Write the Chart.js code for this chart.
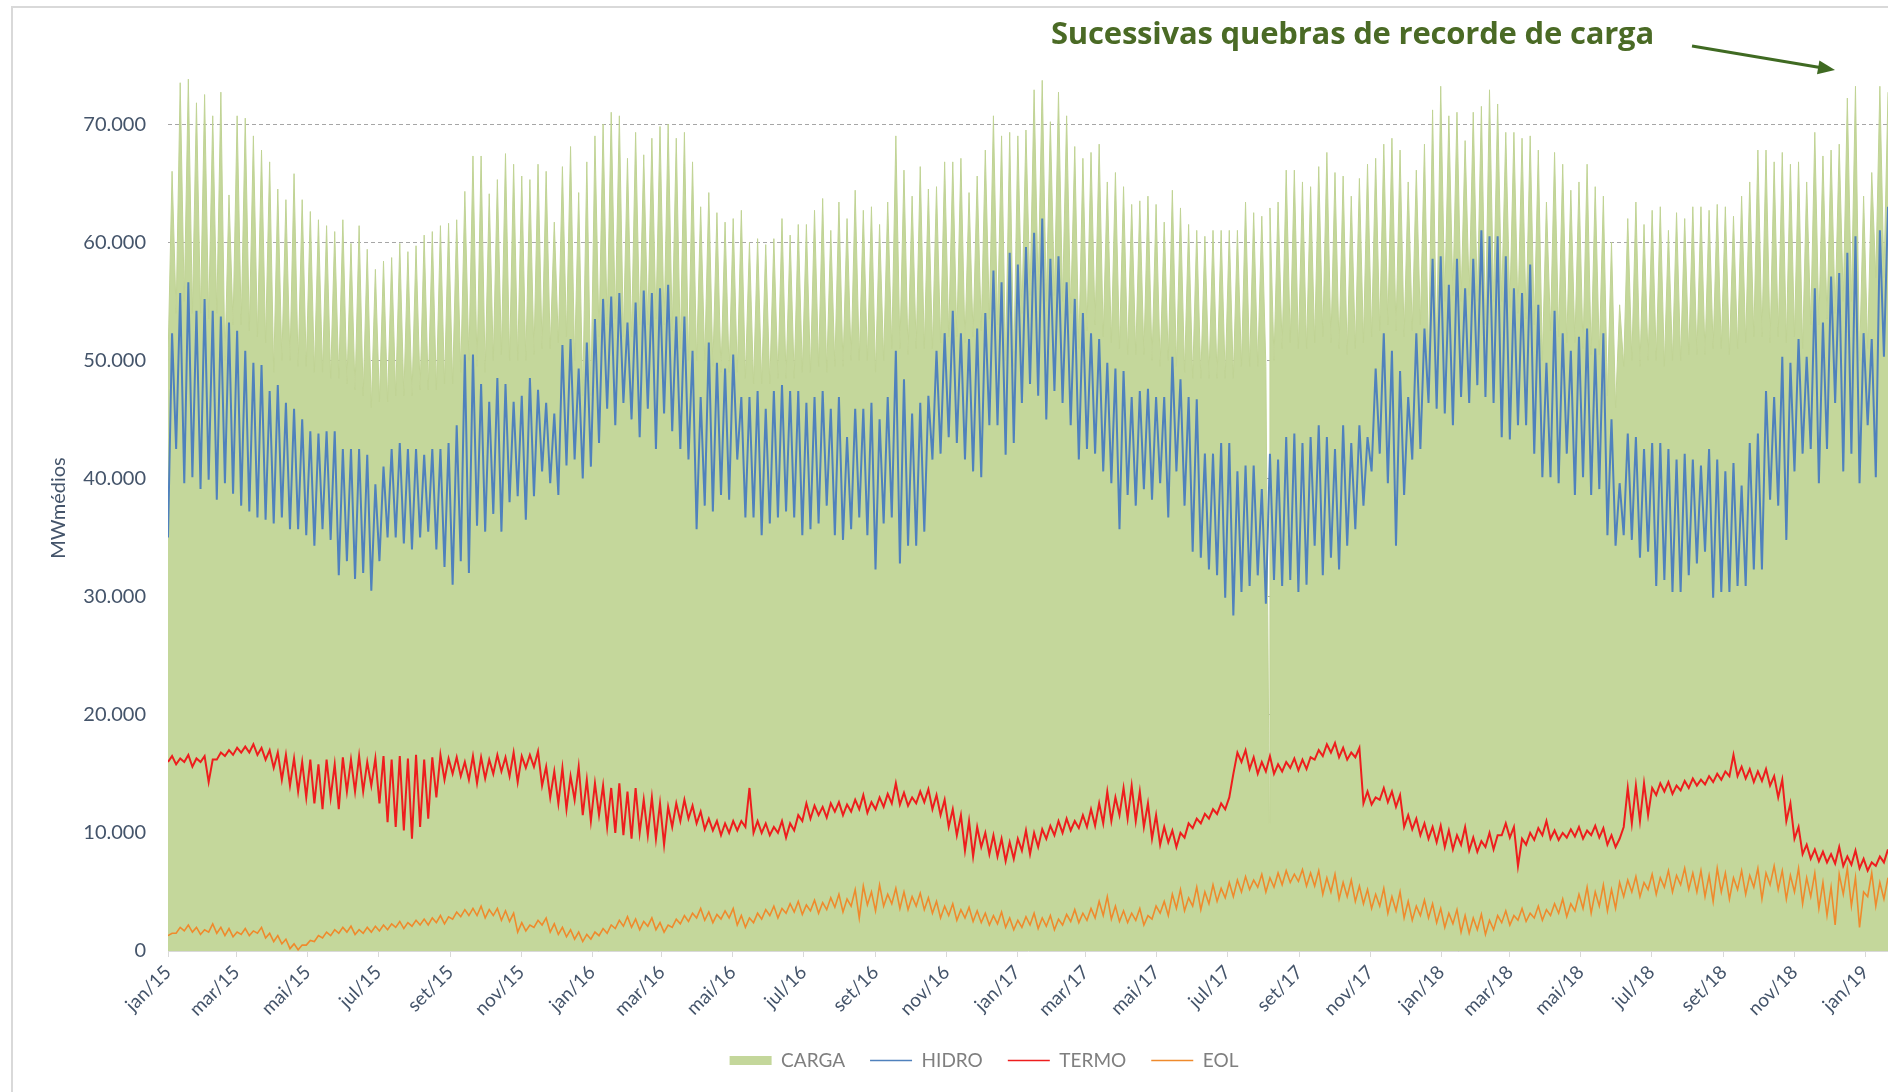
<!DOCTYPE html>
<html>
<head>
<meta charset="utf-8">
<script src="https://cdn.jsdelivr.net/npm/chart.js@4.4.1/dist/chart.umd.min.js"></script>
<style>
html,body{margin:0;padding:0;background:#fff;}
#wrap{position:relative;width:1888px;height:1092px;overflow:hidden;background:#fff;}
#frame{position:absolute;left:11px;top:6px;width:1900px;height:1100px;border-left:2px solid #d9d9d9;border-top:2px solid #d9d9d9;}
#c{position:absolute;left:0;top:0;}
#note{position:absolute;left:1051px;top:11px;font-family:'Open Sans',sans-serif;font-weight:700;font-size:31px;color:#4a6a25;white-space:nowrap;letter-spacing:-0.2px;}
#arrow{position:absolute;left:0;top:0;}
</style>
</head>
<body>
<div id="wrap">
  <div id="frame"></div>
  <canvas id="c" width="1888" height="1092"></canvas>
  <div id="note">Sucessivas quebras de recorde de carga</div>
  <svg id="arrow" width="1888" height="120">
    <line x1="1692" y1="46" x2="1820" y2="67.6" stroke="#3f6a22" stroke-width="3"/>
    <polygon points="1835,70 1819.4,60.4 1817,74.2" fill="#3f6a22"/>
  </svg>
</div>
<script>
// Weekly readings (thousand MW médios). Each week: a weekend low and a mid-week high.
const cargaHi = [
 66,73.5,73.8,71.8,72.5,70.7,72.7,64,70.7,70.5,69,67.8,66.8,64.5,63.6,65.8,63.6,62.6,61.9,61.4,60.9,61.9,59.9,
 61.4,59.4,57.7,58.4,58.7,59.9,59.2,59.7,60.6,60.9,61.4,61.6,61.9,64.3,67.3,67.3,64.1,65.3,67.5,66.6,65.6,65.3,66.6,
 66,61.7,66.4,68.1,64.2,66.8,69,70,71,70.7,67.1,69.3,67.4,68.8,69.8,70,68.8,69.3,66.8,63,64.2,62.5,61.7,62,
 62.7,60,60.3,59.8,60.3,62,60.6,61.5,61.5,62.7,63.7,61,63.4,62,64.4,62.7,63,61.5,63.4,69,66.1,63.9,66.4,64.5,
 64.7,66.8,66.8,67.1,64.2,65.6,67.8,70.7,69,69.3,69,69.5,72.9,73.7,70.2,72.7,70.7,68.1,67.1,67.6,68.3,65.1,65.9,
 64.7,63.2,63.5,63.9,63.2,61.7,64.4,62.9,61.5,61,60.5,61,61,61,61,63.4,62.5,62.2,62.9,63.4,66.1,66.1,65.1,64.7,
 66.4,67.6,65.9,65.6,63.9,65.4,66.6,67.1,68.3,68.8,67.8,65.1,66.1,68.3,71.2,73.2,70.7,71,68.6,71,71.5,72.9,71.7,
 69.3,69.3,68.8,69,67.8,63.4,67.6,66.6,64.4,65.1,66.6,64.7,63.9,60,54.7,62,63.4,61.5,62.7,63,61,62.5,62,63,
 63,62.7,63.2,63,62.2,63.9,65.1,67.8,67.8,66.8,67.6,66.6,66.8,65.1,69.3,67.3,67.8,68.3,72.2,73.2,63.9,65.9,73.2,72.7
];
const cargaLo = [
 50,54,55,54,54,53.5,54,50,53,53,52.5,52,51.5,49,50,50,49.5,49.5,49,49,48.5,48.5,48,
 47.5,47,46,46.5,46.5,47,47,47,47.5,47.5,47.5,48,48,49,50,49.5,49,50,50.5,50,50,50,50.5,
 51,51,51.5,52,50,47,47,52,53,53.5,52,52,53,53,53.5,53,52.5,51,50,50,50,49.5,49,49,
 49,48.5,48,48,48,48.5,48.5,48.5,49,49,49.5,49,49.5,49.5,50,50,50,49,50,51,51,50.5,51,51,
 51,51.5,52,52,51.5,52,52.5,53.5,53,50,49.5,54,55.5,56,55,55.5,55,54,51,52.5,53,52,51.5,
 51,50.5,50.5,50.5,50,49.5,50,49.5,49,48.5,48.5,48.5,48.5,48.5,48.5,49.5,49.5,49.5,49.5,50,51,51.5,51,51,
 51.5,52,51.5,51,50.5,51,51.5,52,52.5,53,52.5,52,52.5,53,50,51,55,55.5,55,55.5,55,53,55,
 55,54.5,54,53.5,53,50,52.5,52,51.5,51.5,51,50.5,50.5,47,46,49.5,50,49.5,50,50,49.5,50,50,50.5,
 50.5,50.5,51,51,50.5,51,51.5,52,52,51.5,52,51.5,52,51,53,53,53.5,54,55,55,50,51,57,57
];
// one-day drop in CARGA (Aug/2017)
const cargaDropDay = [948];
const cargaDropValue = [10.8];

const hidroHi = [
 52.3,55.7,56.6,54.2,55.2,54.2,53.7,53.2,52.5,50.8,49.8,49.6,47.4,47.9,46.4,45.9,45,44,43.8,44,44,42.5,42.5,
 42.5,42,39.5,41,42.5,43,42.5,42.5,42,42.5,42.5,43,44.5,50.5,50.5,48,46.5,48.5,48,46.5,47,48.5,47.5,
 46.4,45.5,51.3,51.8,49.3,51.5,53.5,55.2,55.4,55.7,53.2,54.9,55.9,55.7,56.1,56.4,53.7,53.7,50.8,46.9,51.5,49.8,49.3,50.5,
 46.9,46.9,47.4,45.9,47.4,47.9,47.4,47.4,46.4,46.9,47.4,45.9,46.9,43.5,45.9,45.9,46.4,45,46.9,50.8,48.4,45.5,46.4,47,
 50.8,52.3,54.2,52.3,51.8,52.7,54,57.6,56.6,59.1,58.1,59.6,60.8,62,58.6,58.8,56.6,55.2,54,52.3,51.8,49.8,49.3,
 49.1,46.9,47.4,47.6,46.9,46.9,50.3,48.4,46.9,46.7,42.1,42.1,43,43,40.6,41.1,41.1,39.1,42.1,41.6,43.5,43.8,43,43.5,
 44.5,43.5,42.5,44.5,43,44.5,43.5,49.3,52.3,50.8,49.1,46.9,52.3,52.7,58.6,58.8,56.4,58.6,56.1,58.6,61,60.5,60.5,
 58.8,56.1,55.7,58.1,54.7,49.8,54.2,52.3,50.8,52,52.7,51,52.3,45,39.6,43.8,43.5,42.5,43,43,42.5,41.6,42.1,41.6,
 41.1,42.5,41.6,40.6,41.3,39.4,43,43.8,47.4,46.9,50.3,49.8,51.8,50.3,56.1,53.2,57.1,57.4,59.1,60.5,52.3,51.8,61,63
];
const hidroLo = [
 35,42.5,39.6,40.1,39.1,39.9,38.2,39.6,38.7,37.7,37.2,36.7,36.5,36.2,36.7,35.7,35.7,35.2,34.3,35.7,34.8,31.8,33,
 31.5,32,30.5,33,35,35,34.5,34,35,35.5,34,32.5,31,33,32,36,35.5,37,35.5,38,38.5,36.5,38.5,
 40.6,39.6,38.6,41.1,41.6,40,41,43,45.9,44.5,46.4,45,43.5,45.9,42.5,45.5,44,42.5,41.6,35.7,37.7,37.2,38.6,38.2,
 41.6,36.7,36.7,35.2,36.2,36.7,37.2,36.7,35.2,35.7,36.2,37.7,35.2,34.8,35.7,36.7,35.2,32.3,36.2,36.7,32.8,34.3,34.3,35.5,
 41.6,42.1,43.5,43,41.6,40.6,40.1,44.5,44.5,42,43,46.4,48,47,45,47.4,46.4,44.5,41.6,42.5,42.1,40.6,39.6,
 35.7,38.6,37.7,39.1,38.2,39.6,36.7,40.6,37.7,33.8,33.3,32.3,31.8,29.9,28.4,30.4,30.9,31.8,29.4,31.4,30.9,31.4,30.4,31,
 34.3,31.8,33.3,32.3,34.3,35.7,37.7,40.6,42.1,39.6,34.3,38.6,41.6,42.5,46.4,45.9,45.5,44.5,46.9,46.4,47.9,46.9,46.4,
 43.5,43.3,44.5,44.5,42.1,40.1,40.1,39.6,42.1,38.6,40.1,38.6,39.1,35.2,34.3,35.2,34.8,33.3,33.8,30.9,31.4,30.4,30.4,31.8,
 32.8,33.8,29.9,30.4,30.4,30.9,30.9,32.3,32.3,38.2,37.7,34.8,40.6,42.1,42.5,39.6,42.5,46.4,40.6,42.1,39.6,44.5,40.1,50.3
];
const termoHi = [
 16.5,16.3,16.6,16.3,16.5,16.2,16.8,17,17.2,17.3,17.5,17.2,17,16.8,16.6,16.3,16,16.2,15.8,16.2,15.8,16.4,16.2,
 16.5,16,16.3,16.5,16.2,16.5,16.3,16.6,16.2,16.4,16.6,16.3,16.4,16,16.5,16.4,16.2,16.6,16.4,16.8,16.5,16.6,16.9,
 15.6,15.2,15.5,14.8,15.6,14.5,14.2,14,13.8,14.2,13.5,13.8,12.8,13,12.5,12.2,12.5,12.8,12.3,11.8,11.2,11,10.8,11,
 11,13.8,11,10.8,10.5,11,10.8,11.5,12.5,12.3,12.2,12.5,12.6,12.4,12.8,13.2,12.6,13,13.3,14.2,13.4,13,13.5,13.7,
 13.2,12.8,12,11.5,11,10.5,10,9.8,9.5,9.2,9.5,10.2,10,10.3,10.6,11,11.2,11,11.5,12,12.5,13.5,13,
 13.8,14,13.5,12.5,11.5,10.5,10.2,10,10.8,11.2,11.6,12,12.5,13,16.8,17,16.4,16,16.5,15.8,16,16.3,16.2,16.4,
 17,17.5,17.6,17.2,16.8,17.2,13.5,13,13.8,13.5,13.2,11.5,11.2,10.8,10.5,10.6,10.2,9.8,10.5,9.6,9.3,10,9.8,
 10.8,10.5,9.5,10,10.4,11,10.2,10,10.3,10.5,10.2,10.6,10.4,9.8,9.5,13.8,14,14.2,13.8,14.2,14.3,14,14.4,14.6,
 14.5,14.8,15,15.2,16.6,15.6,15.4,15.2,15.4,14.8,14.5,12.5,10.5,9,8.6,8.4,8.2,8.8,8,8.5,7.8,7.5,8,8.6
];
const termoLo = [
 16,15.8,16,15.6,16,14.3,16.2,16.5,16.6,16.8,16.8,16.6,16.2,15.5,14.5,14,13.5,13,12.5,12,13,12,13.5,
 13.5,13.5,14,12.5,10.9,10.5,10.2,9.5,10.5,11.2,13,14.5,15,14.8,14.5,14.2,14.6,15,15.2,14.8,14.3,15.5,15.6,
 14,13,12.5,12,12.8,11.5,11,11.5,10.5,10,9.8,9.5,10,9.8,9.5,9,10.5,11,11.2,10.8,10.3,10.2,9.8,10,
 10.2,10.5,10,10,9.8,10,9.6,10.2,11,11.2,11.5,11.3,11.8,11.5,11.8,12,11.7,12,12.2,12.5,12.4,12.3,12.5,12.6,
 12,11.5,10.5,9.8,8.5,8,8.8,8.2,8,7.6,7.8,8.5,8.2,8.8,9.5,9.8,10,10.2,10.4,10.5,10.6,10.8,11,
 11.5,11.2,11,10.5,9.5,9,9.2,8.8,9.6,10.4,10.8,11.2,11.6,12,15,16,15.4,15,15.2,15,15.2,15.5,15.3,15.4,
 16.2,16.5,16.8,16.4,16.2,16.4,12.5,12.4,12.8,12.6,12.2,10.5,10.3,9.8,9.5,9.2,8.8,8.6,9,8.5,8.4,8.8,8.6,
 9.8,9.6,7.2,9,9.4,9.8,9.5,9.4,9.6,9.7,9.5,9.8,9.6,9,8.8,10.5,10.8,11,11.5,13.2,13.5,13.3,13.6,13.8,
 14,14.1,14.3,14.5,14.8,14.8,14.6,14.3,14.4,14,13,11,9.5,8.2,7.8,7.6,7.5,7.4,7.2,7.3,7,6.8,7.2,7.5
];
const eolHi = [
 1.5,2.0,2.2,2.0,1.8,2.3,2.0,1.9,1.6,1.9,1.7,2.0,1.5,1.3,1.0,0.6,0.5,0.9,1.3,1.6,1.8,2.0,2.1,
 1.8,2.0,2.1,2.2,2.3,2.5,2.4,2.6,2.7,2.8,3.0,2.9,3.3,3.5,3.6,3.8,3.5,3.6,3.4,3.2,2.4,2.2,2.6,
 2.8,2.3,2.0,1.8,1.6,1.4,1.6,1.9,2.2,2.6,2.9,2.7,2.5,2.8,2.4,2.2,2.7,3.0,3.2,3.6,3.3,3.1,3.4,3.6,
 3.0,2.8,3.2,3.5,3.8,3.6,4.0,4.2,3.9,4.3,4.1,4.5,4.8,4.4,5.2,5.5,5.0,5.6,4.8,5.3,5.0,4.6,4.9,4.5,
 4.2,3.8,4.0,3.5,3.7,3.4,3.2,3.0,3.3,2.8,2.6,2.9,3.2,2.8,3.0,2.7,3.1,3.5,3.2,3.6,4.2,4.6,3.8,
 3.4,3.2,3.6,3.0,3.8,4.2,4.8,5.2,4.5,5.4,5.0,5.6,5.3,5.8,6.0,6.3,6.0,6.5,6.2,6.6,6.8,6.5,6.9,6.6,
 6.8,6.2,6.5,5.8,6.0,5.5,5.2,4.8,5.3,4.6,5.0,4.2,3.8,4.3,4.0,3.6,3.2,3.5,3.0,2.8,3.1,2.6,3.0,
 3.4,3.0,3.6,3.2,3.8,3.5,4.0,4.4,4.0,4.8,5.4,5.0,5.6,5.2,5.8,6.0,6.3,5.8,6.5,6.2,6.8,6.4,7.0,6.6,
 6.8,6.4,7.0,6.6,6.2,6.8,6.4,7.0,6.6,7.2,6.8,6.4,7.0,6.2,6.6,5.8,5.4,6.5,7.0,6.2,5.0,6.6,5.8,6.2
];
const eolLo = [
 1.3,1.5,1.7,1.6,1.4,1.6,1.5,1.3,1.2,1.4,1.3,1.5,1.1,0.8,0.6,0.2,0.1,0.5,0.8,1.1,1.3,1.5,1.6,
 1.4,1.5,1.6,1.7,1.8,2.0,1.9,2.1,2.2,2.2,2.4,2.3,2.7,2.9,3.0,3.0,2.8,3.0,2.6,2.5,1.6,1.7,2.0,
 2.2,1.6,1.4,1.2,1.0,0.8,1.0,1.3,1.5,1.9,2.1,2.0,1.8,2.1,1.8,1.6,2.0,2.3,2.5,2.8,2.6,2.4,2.7,2.8,
 2.2,2.0,2.4,2.7,3.0,2.8,3.2,3.3,3.1,3.4,3.2,3.5,3.7,3.3,3.8,2.8,3.9,3.4,3.8,4.0,3.6,3.5,3.8,3.5,
 3.2,2.8,3.0,2.6,2.8,2.5,2.4,2.2,2.3,2.0,1.8,2.0,2.2,1.9,2.1,1.8,2.2,2.5,2.4,2.6,2.8,3.0,2.7,
 2.5,2.4,2.6,2.2,2.7,3.2,3.0,3.6,3.4,3.8,3.5,4.0,4.2,4.5,4.6,5.0,5.2,5.4,5.0,5.4,5.6,5.8,5.9,5.5,
 5.5,4.8,5.0,4.4,4.6,4.2,4.0,3.6,3.8,3.2,3.4,2.8,2.6,3.0,2.8,2.4,2.0,2.3,1.6,1.5,1.8,1.4,1.8,
 2.4,2.2,2.6,2.5,2.8,2.6,3.0,3.2,2.9,3.4,3.6,3.2,3.8,3.4,3.6,4.6,5.0,4.6,5.2,4.8,5.4,5.0,5.6,5.2,
 5.0,4.6,4.2,5.0,4.4,5.2,4.8,5.4,4.4,5.6,5.2,4.4,5.0,4.0,4.6,3.6,3.0,2.2,4.8,3.8,2.0,4.6,3.8,4.4
];
const seriesNames = ['CARGA','HIDRO','TERMO','EOL'];
const tickLabels = ['jan/15','mar/15','mai/15','jul/15','set/15','nov/15','jan/16','mar/16','mai/16','jul/16','set/16','nov/16','jan/17','mar/17','mai/17','jul/17','set/17','nov/17','jan/18','mar/18','mai/18','jul/18','set/18','nov/18','jan/19'];
const yTickValues = [0,10000,20000,30000,40000,50000,60000,70000];
const axisTitle = 'MWmédios';

// ---- build ----
const monthIdx = {jan:0,fev:1,mar:2,abr:3,mai:4,jun:5,jul:6,ago:7,set:8,out:9,nov:10,dez:11};
const day0 = Date.UTC(2015,0,1);
const tickDays = tickLabels.map(l => { const [m,y] = l.split('/'); return (Date.UTC(2000+ +y, monthIdx[m], 1) - day0)/864e5; });
const labelByDay = {}; tickDays.forEach((d,i)=>labelByDay[d]=tickLabels[i]);

function weekly(lo, hi){
  const pts = [];
  for (let w=0; w<hi.length; w++){
    pts.push({x: 7*w, y: lo[w]*1000});
    pts.push({x: 7*w+3.5, y: hi[w]*1000});
  }
  return pts;
}
const cargaPts = weekly(cargaLo, cargaHi);
cargaDropDay.forEach((d,i)=>cargaPts.push({x:d, y:cargaDropValue[i]*1000}));
cargaPts.sort((a,b)=>a.x-b.x);
const lastDay = 7*(cargaHi.length-1)+3.5;

const fmt = v => String(Math.round(v)).replace(/\B(?=(\d{3})+(?!\d))/g,'.');
const green = '#c4d79b';

const legendShift = {
  id:'legendShift',
  afterLayout(chart){ const l = chart.legend; if(l){ l.left += 30; l.right += 30; } }
};

new Chart(document.getElementById('c').getContext('2d'), {
  type:'line',
  plugins:[legendShift],
  data:{datasets:[
    {label:seriesNames[0], data:cargaPts, fill:'origin', backgroundColor:green, borderColor:'#c0d394', borderWidth:1, pointRadius:0, order:4},
    {label:seriesNames[1], data:weekly(hidroLo,hidroHi), fill:false, borderColor:'#4f81bd', borderWidth:2, pointRadius:0, order:3},
    {label:seriesNames[2], data:weekly(termoLo,termoHi), fill:false, borderColor:'#ee1d1d', borderWidth:2, pointRadius:0, order:2},
    {label:seriesNames[3], data:weekly(eolLo,eolHi), fill:false, borderColor:'#ef8a2c', borderWidth:1.6, pointRadius:0, order:1}
  ]},
  options:{
    responsive:false, animation:false, devicePixelRatio:1, parsing:false,
    layout:{padding:{left:20,right:0,top:65,bottom:12}},
    plugins:{
      tooltip:{enabled:false},
      legend:{position:'bottom', labels:{
        usePointStyle:true, pointStyleWidth:42, boxWidth:42, boxHeight:9, padding:25,
        color:'#7f7f7f', font:{family:'Lato', size:19},
        sort:(a,b)=>a.datasetIndex-b.datasetIndex,
        generateLabels(chart){
          const items = Chart.defaults.plugins.legend.labels.generateLabels(chart);
          items.forEach((it)=>{
            if(it.datasetIndex===0){ it.pointStyle='rect'; it.fillStyle=green; it.strokeStyle=green; it.lineWidth=0; }
            else { it.pointStyle='line'; it.lineWidth=1.5; }
          });
          return items;
        }
      }}
    },
    scales:{
      x:{type:'linear', min:0, max:lastDay,
        afterBuildTicks:(s)=>{ s.ticks = tickDays.map(v=>({value:v})); },
        afterFit:(s)=>{ s.height = 75; },
        grid:{drawOnChartArea:false, drawTicks:true, tickLength:6, color:'#d9d9d9'},
        border:{color:'#d9d9d9'},
        ticks:{autoSkip:false, minRotation:45, maxRotation:45, padding:4, color:'#44546a', font:{family:'Lato', size:19},
          callback:(v)=>labelByDay[v] ?? ''}
      },
      y:{min:0, max:75000,
        afterBuildTicks:(s)=>{ s.ticks = yTickValues.map(v=>({value:v})); },
        afterFit:(s)=>{ s.width = 148; },
        title:{display:true, text:axisTitle, color:'#44546a', font:{family:'Lato', size:20}, padding:{top:27,bottom:0}},
        ticks:{autoSkip:false, padding:22, color:'#44546a', font:{family:'Lato', size:20}, callback:(v)=>fmt(v)},
        grid:{color:'#a6a6a6', drawTicks:false, lineWidth:1},
        border:{display:false, dash:[4,3]}
      }
    }
  }
});
</script>
</body>
</html>
